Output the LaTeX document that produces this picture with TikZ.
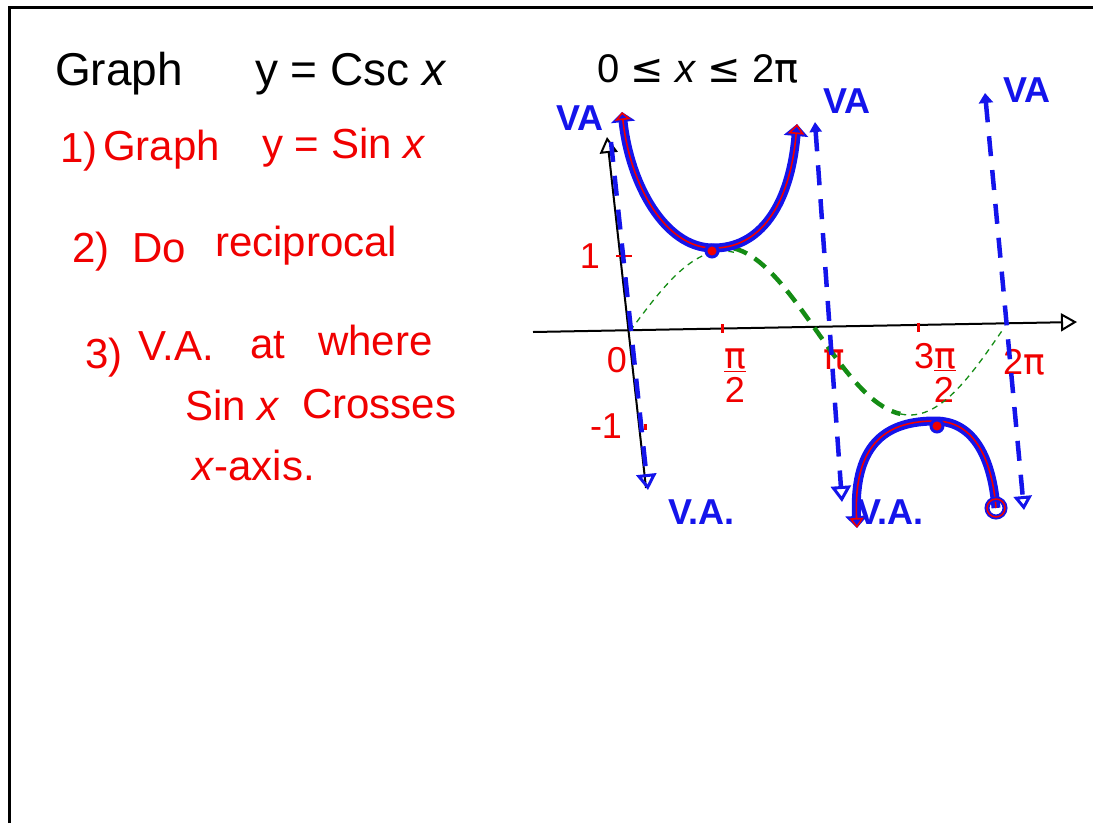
\documentclass[tikz,border=0pt]{standalone}
\usepackage{fontspec}
\setmainfont{Liberation Sans}
\newfontfamily\symfont{DejaVu Sans}
\usetikzlibrary{arrows.meta}
\definecolor{penred}{RGB}{240,0,0}
\definecolor{penblue}{RGB}{20,20,235}
\definecolor{pengreen}{RGB}{20,140,20}
\newcommand{\bigpen}{\fontsize{42}{50}\selectfont}
\newcommand{\midpen}{\fontsize{36}{40}\selectfont}
\tikzstyle{ink}       = [anchor=base west, inner sep=0pt, font=\bigpen]
\tikzstyle{redink}    = [ink, text=penred]
\tikzstyle{valbl}     = [anchor=base west, inner sep=0pt, text=penblue,
                         font=\midpen\bfseries]
\tikzstyle{ticklbl}   = [inner sep=0pt, text=penred, font=\midpen, align=center]
\tikzstyle{axis}      = [draw=black, line width=2pt,
                         -{Triangle[open, length=16pt, width=18pt, line width=2pt]}]
\tikzstyle{asym}      = [draw=penblue, line width=4.5pt, dash pattern=on 20pt off 14pt]
\tikzstyle{branch}    = [draw=penblue, line width=9pt]
\tikzstyle{core}      = [draw=penred, line width=1.6pt]
\tikzstyle{sinethin}  = [draw=pengreen, line width=1.3pt, dash pattern=on 6pt off 5pt]
\tikzstyle{sinethick} = [draw=pengreen, line width=4.5pt, dash pattern=on 14pt off 9pt]

\begin{document}
\begin{tikzpicture}[x=1pt, y=-1pt]
  \useasboundingbox (0,0) rectangle (1093,823);
  % board frame
  \draw[line width=3pt] (9,823) -- (9,7) -- (1093,7);

  % heading
  \node[ink, font=\fontsize{46}{54}\selectfont] (title) at (55,85) {Graph};
  \node[ink, font=\fontsize{46}{54}\selectfont] (fn) at (255,85) {y = Csc \textit{x}};
  \node[ink, font=\fontsize{40}{46}\selectfont] (dom) at (597,82)
    {0 {\symfont ≤} \textit{x} {\symfont ≤} 2{\symfont π}};

  % steps
  \node[redink] (s1) at (60,162) {1)};
  \node[redink] (s1a) at (103,160) {Graph};
  \node[redink] (s1b) at (262,158) {y = Sin \textit{x}};
  \node[redink] (s2) at (72,262) {2)};
  \node[redink] (s2a) at (132,262) {Do};
  \node[redink] (s2b) at (215,256) {reciprocal};
  \node[redink] (s3) at (85,368) {3)};
  \node[redink] (s3a) at (138,360) {V.A.};
  \node[redink] (s3b) at (250,358) {at};
  \node[redink] (s3c) at (318,355) {where};
  \node[redink] (s3d) at (185,420) {Sin \textit{x}};
  \node[redink] (s3e) at (302,418) {Crosses};
  \node[redink] (s3f) at (192,480) {\textit{x}-axis.};

  % axes
  \coordinate (xl) at (533,332);
  \coordinate (xr) at (1077,322);
  \coordinate (yb) at (646,488);
  \coordinate (yt) at (607,137);
  \draw[axis] (xl) -- (xr);
  \draw[axis] (yb) -- (yt);

  % ticks and tick labels
  \draw[penred, line width=3pt] (722,324) -- (722,333);
  \draw[penred, line width=3pt] (918,323) -- (918,332);
  \draw[penred, line width=2pt] (616,256) -- (632,256);
  \draw[penred, line width=3pt] (645,424) -- (645,430);
  \node[ticklbl] (t0) at (617,360) {0};
  \node[ticklbl] (t1) at (735,376) {\underline{\symfont π}\\[-6pt]2};
  \node[ticklbl] (t2) at (834,360) {{\symfont π}};
  \node[ticklbl] (t3) at (935,373) {3\underline{\symfont π}\\[-6pt]\hspace{18pt}2};
  \node[ticklbl] (t4) at (1024,362) {2{\symfont π}};
  \node[ticklbl] (one) at (590,256) {1};
  \node[ticklbl] (mone) at (606,426) {-1};

  % sine curve, dashed green
  \draw[sinethin] plot[domain=0:1.75, samples=30]
    ({630+\x*59.4},{331-80*sin(\x r)});
  \draw[sinethick] plot[domain=1.75:4.55, samples=40]
    ({630+\x*59.4},{331-84*sin(\x r)});
  \draw[sinethin] plot[domain=4.55:6.283, samples=30]
    ({630+\x*59.4},{329-86*sin(\x r)});

  % vertical asymptotes
  \draw[asym, -{Triangle[open, length=16pt, width=20pt, line width=3pt]}]
    (611,142) -- (648,490);
  \draw[asym, {Triangle[length=10pt, width=12pt]}-{Triangle[open, length=16pt, width=20pt, line width=3pt]}]
    (815,122) -- (842,502);
  \draw[asym, {Triangle[length=10pt, width=14pt]}-{Triangle[open, length=14pt, width=18pt, line width=3pt]}]
    (985,93) -- (1024,510);
  \node[valbl] (va1) at (556,130) {VA};
  \node[valbl] (va2) at (823,113) {VA};
  \node[valbl] (va3) at (1003,102) {VA};
  \node[valbl] (va4) at (668,524) {V.A.};
  \node[valbl] (va5) at (857,524) {V.A.};

  % csc branches
  \coordinate (ua) at (622,112);
  \coordinate (um) at (712,248);
  \coordinate (ub) at (797,124);
  \draw[branch, {Triangle[length=10pt, width=24pt]}-{Triangle[length=12pt, width=24pt]}]
    (ua) .. controls (630,185) and (665,247) .. (um)
         .. controls (760,249) and (790,205) .. (ub);
  \draw[core, {Triangle[open, length=8pt, width=16pt]}-{Triangle[open, length=10pt, width=16pt]}]
    (ua) .. controls (630,185) and (665,247) .. (um)
         .. controls (760,249) and (790,205) .. (ub);
  \coordinate (la) at (857,528);
  \coordinate (lm) at (935,421);
  \coordinate (lb) at (996,508);
  \draw[branch, {Triangle[length=12pt, width=22pt]}-]
    (la) .. controls (853,440) and (890,421) .. (lm)
         .. controls (975,421) and (992,460) .. (lb);
  \draw[core, {Triangle[open, length=10pt, width=14pt]}-]
    (la) .. controls (853,440) and (890,421) .. (lm)
         .. controls (975,421) and (992,460) .. (lb);
  \filldraw[draw=penblue, fill=penred, line width=3pt] (712,251) circle (6);
  \filldraw[draw=penblue, fill=penred, line width=3pt] (937,426) circle (6);
  \draw[draw=penblue, line width=5pt] (lb) circle (9);
  \draw[draw=penred, line width=1.5pt] (lb) circle (9);
\end{tikzpicture}
\end{document}
